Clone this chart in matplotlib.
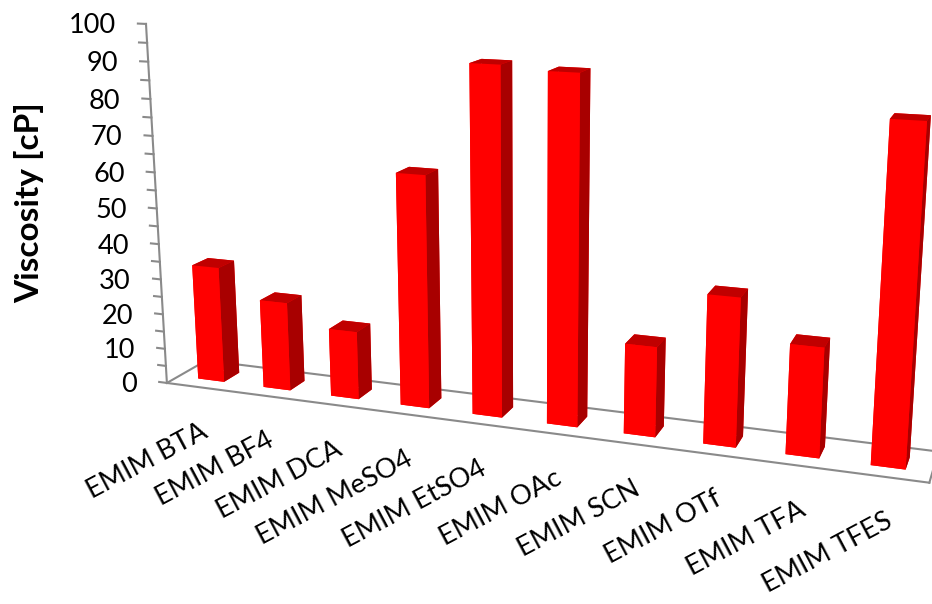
import numpy as np
import matplotlib
matplotlib.use('Agg')
import matplotlib.pyplot as plt
from mpl_toolkits.mplot3d import proj3d

plt.rcParams['font.family'] = ['Lato', 'DejaVu Sans']

# viscosity of EMIM ionic liquids
anions = ['EMIM BTA', 'EMIM BF4', 'EMIM DCA', 'EMIM MeSO4', 'EMIM EtSO4',
          'EMIM OAc', 'EMIM SCN', 'EMIM OTf', 'EMIM TFA', 'EMIM TFES']
viscosity = [33, 25, 19, 63.5, 93, 92, 24, 39, 28.5, 85]
z_ticks = list(range(0, 101, 10))

n = len(anions)
W, H = 932, 604
fig = plt.figure(figsize=(W / 100, H / 100), dpi=100)

# square 3d axes, larger than the figure so the box fills the frame
side, cx, cy = 878.6, 517.9, 242.9
ax = fig.add_axes([(cx - side / 2) / W, (H - cy - side / 2) / H, side / W, side / H],
                  projection='3d', computed_zorder=False)
ax.set_xlim(0, n)
ax.set_ylim(0, 1)
ax.set_zlim(0, 100)
ax.set_box_aspect((10, 1, 4.811))
ax.view_init(elev=13.91, azim=-70.17)
ax.set_proj_type('persp', focal_length=0.333)
ax.set_axis_off()

# columns: 40% of the category width, centred in the floor depth
face = ['#ff0000', '#c00000', '#ff0000', '#ff0000', '#ff0000', '#a80000']
ax.bar3d(np.arange(n) + 0.3, np.full(n, 0.3), np.zeros(n), 0.4, 0.4, viscosity,
         color=face * n, shade=False, edgecolor='none', zorder=2)

# floor outline and value axis
grey = '#8a8a8a'
ax.plot([0, 0, n, n], [0, 1, 1, 0], [0, 0, 0, 0], color=grey, lw=1.5, zorder=1)
ax.plot([0, n], [0, 0], [0, 0], color=grey, lw=1.5, zorder=3)
ax.plot([0, 0], [0, 0], [0, 100], color=grey, lw=1.5, zorder=3)
for z in range(0, 101, 5):
    ax.plot([0, -0.12], [0, 0], [z, z], color=grey, lw=1.5, zorder=3)

M = ax.get_proj()

# value tick labels beside the axis
for z in z_ticks:
    u, v, _ = proj3d.proj_transform(0, 0, z, M)
    ax.annotate(str(z), (u, v), xytext=(-30, -2), textcoords='offset pixels',
                ha='right', va='center', fontsize=19.5, color='black',
                annotation_clip=False)

# slanted category labels under the front edge
for i, name in enumerate(anions):
    u, v, _ = proj3d.proj_transform(i + 0.5, 0, 0, M)
    ax.annotate(name, (u, v), xytext=(6, -43), textcoords='offset pixels',
                ha='right', va='center', rotation=28, rotation_mode='anchor',
                fontsize=19.5, color='black', annotation_clip=False)

fig.text(29 / W, 1 - 203 / H, 'Viscosity [cP]', rotation=90, ha='center', va='center',
         fontsize=24, fontweight='bold')

fig.savefig('out.png', dpi=100)
